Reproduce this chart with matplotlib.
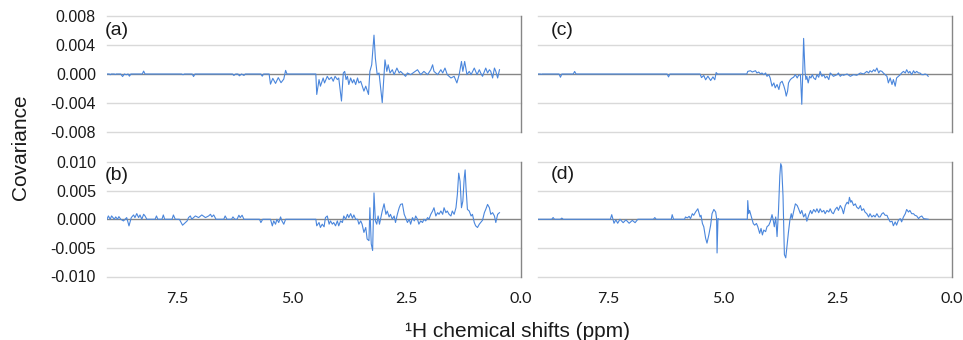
import numpy as np
import matplotlib
matplotlib.use("Agg")
import matplotlib.pyplot as plt

# covariance values below are in units of 1e-3
# panel (a)
a_ppm = [9.03, 8.99, 8.97, 8.95, 8.88, 8.86, 8.84, 8.74, 8.70, 8.66,
         8.62, 8.58, 8.55, 8.52, 8.27, 8.24, 8.21, 7.41, 7.38, 7.35,
         7.18, 7.15, 7.12, 6.30, 6.27, 6.23, 6.18, 6.15, 6.10, 6.05,
         6.02, 5.68, 5.65, 5.62, 5.50, 5.47, 5.42, 5.36, 5.30, 5.24,
         5.18, 5.14, 5.11, 4.48,
         4.46, 4.41, 4.38, 4.32, 4.29, 4.23, 4.19, 4.14, 4.10, 4.06,
         4.01, 3.98, 3.92, 3.88, 3.85, 3.82, 3.79, 3.76, 3.72, 3.68,
         3.65, 3.61, 3.57, 3.54, 3.50, 3.43, 3.39, 3.33, 3.30, 3.26,
         3.21, 3.18, 3.14, 3.10, 3.03, 2.99, 2.97, 2.93, 2.90, 2.86,
         2.81, 2.77, 2.71, 2.66, 2.63, 2.52, 2.48, 2.41, 2.26, 2.19,
         2.12, 2.04, 1.97, 1.93, 1.90, 1.82, 1.75, 1.71, 1.66, 1.61,
         1.53, 1.46, 1.40, 1.35, 1.30, 1.27, 1.23, 1.18, 1.13, 1.09,
         1.02, 0.96, 0.91, 0.88, 0.84, 0.77, 0.73, 0.69, 0.66, 0.62,
         0.58, 0.55, 0.51, 0.47]
a_cov = [0, 0, -0.1, 0, 0, -0.08, 0, 0, -0.35, 0,
         -0.1, 0, -0.3, 0, 0, 0.4, 0, 0, -0.1, 0,
         0, -0.35, 0, 0, -0.2, 0, 0, -0.25, 0, -0.2,
         0, 0, -0.3, 0, 0, -1.4, -0.6, -1.3, -0.5, -1.2,
         -0.7, 0.5, 0, 0,
         -2.82, -0.77, -1.68, -0.55, -1.23, -0.32, -0.77, -0.45, -1.00, -0.32,
         -0.77, -0.55, -3.73, 0.14, 0.36, -0.77, -0.32, -1.45, -0.55, -1.23,
         -0.77, -1.45, -0.55, -1.23, -1.00, -2.36, -1.68, -2.82, 0.36, 1.27,
         5.36, 2.18, -0.09, 0.14, -3.95, -0.09, 1.95, 0.36, 1.27, 0.14,
         0.59, -0.09, 0.82, 0.14, 0.36, -0.32, 0.14, -0.09, 0.59, -0.09,
         0.36, -0.09, 0.59, 1.27, 0.36, -0.09, 0.59, 0.14, 0.82, -0.09,
         -0.55, -0.32, -1.23, -0.09, 1.73, 0.36, 1.73, -0.09, 0.36, -0.09,
         0.82, -0.09, 0.59, 0.14, -0.32, 0.82, 0.14, 0.59, 0.36, -0.55,
         0.82, 0.36, -0.55, 0.59]

# panel (b)
b_ppm = [9.04, 9.01, 8.97, 8.94, 8.88, 8.85, 8.81, 8.78, 8.74, 8.68,
         8.61, 8.56, 8.51, 8.46, 8.43, 8.39, 8.35, 8.32, 8.28, 8.24,
         8.21, 8.17, 7.99, 7.96, 7.93, 7.84, 7.81, 7.78, 7.62, 7.59,
         7.55, 7.46, 7.39, 7.33, 7.29, 7.26, 7.22, 7.19, 7.11, 7.04,
         6.97, 6.89, 6.82, 6.78, 6.75, 6.71, 6.66, 6.49, 6.46, 6.42,
         6.32, 6.29, 6.25, 6.20, 6.16, 6.13, 6.09, 6.05, 5.71, 5.68,
         5.64, 5.47, 5.43, 5.40, 5.36, 5.33, 5.29, 5.25, 5.22, 5.18,
         5.14, 4.48,
         4.46, 4.41, 4.38, 4.34, 4.30, 4.27, 4.23, 4.19, 4.16, 4.12,
         4.09, 4.05, 4.01, 3.98, 3.94, 3.90, 3.87, 3.83, 3.79, 3.76,
         3.72, 3.68, 3.65, 3.61, 3.57, 3.54, 3.50, 3.47, 3.43, 3.39,
         3.36, 3.32, 3.30, 3.27, 3.24, 3.21, 3.18, 3.15, 3.12, 3.09,
         3.06, 3.03, 2.99, 2.95, 2.92, 2.88, 2.85, 2.81, 2.77, 2.74,
         2.70, 2.66, 2.63, 2.59, 2.55, 2.52, 2.48, 2.44, 2.41, 2.37,
         2.33, 2.30, 2.26, 2.23, 2.19, 2.15, 2.12, 2.08, 2.04, 2.01,
         1.97, 1.93, 1.90, 1.86, 1.82, 1.79, 1.75, 1.71, 1.68, 1.64,
         1.61, 1.57, 1.53, 1.50, 1.46, 1.42, 1.39, 1.36, 1.33, 1.30,
         1.27, 1.24, 1.22, 1.20, 1.17, 1.13, 1.09, 1.06, 1.02, 0.99,
         0.95, 0.91, 0.88, 0.84, 0.80, 0.77, 0.73, 0.69, 0.66, 0.62,
         0.58, 0.55, 0.51, 0.47]
b_cov = [0, 0.58, 0, 0.58, 0, 0.41, 0, 0.46, 0, -0.29,
         0.29, -1.16, 0.29, 0.75, 0.29, 0.99, 0.29, 0.75, 0, 0.87,
         0.58, 0, 0, 0.58, 0, 0, 0.75, 0, 0, 0.75,
         0, 0, -1.04, -0.58, -0.29, 0.29, 0.58, 0, 0.58, 0.29,
         0.75, 0.29, 0.58, 0.87, 0.41, 0.75, 0, 0, 0.58, 0,
         0, 0.41, 0, 0, 0.7, 0.29, 0.7, 0, 0, -0.58,
         0, 0, -1.16, -0.29, -0.87, 0, -0.58, 0.41, -0.29, -0.87,
         0, 0,
         -1.15, -0.57, -1.44, -0.86, -1.32, 0.29, 0.57, -0.86, -0.29, -0.86,
         -0.57, -1.15, -0.29, -1.15, -0.29, -0.57, 0.57, 0, 0.86, 0.29,
         0.98, 0.17, 0.75, 0, 0, -0.86, -0.29, -0.86, -2.30, -1.44,
         -3.45, -3.74, 2.01, -4.31, -5.46, 4.60, -0.29, -0.86, 0.57, -0.86,
         0.29, 1.44, 2.70, 0.86, 1.44, 0.40, 0.86, 0, 0.57, -0.57,
         0.86, 2.01, 2.59, 2.70, 0.86, 0.29, -0.57, 0, -0.86, 0.29,
         -0.29, 0.57, 0, -0.86, -0.29, -0.57, 0, -0.29, 0.29, 0,
         0.86, 1.44, 2.01, 0.57, 1.15, 0.86, 1.44, 0.86, 2.01, 1.15,
         1.44, 0.86, 0.57, 1.44, 0.86, 2.01, 4.31, 8.05, 6.61, 2.01,
         3.16, 7.18, 8.62, 5.46, 1.72, 1.44, 0.57, 0.86, -0.57, -1.15,
         -1.44, -0.86, -0.57, -0.17, 1.15, 1.72, 2.59, 2.01, 0.86, 1.15,
         0.57, -0.57, 0.86, 1.15]

# panel (c)
c_ppm = [9.04, 8.99, 8.97, 8.95, 8.58, 8.55, 8.52, 8.27, 8.24, 8.21,
         6.22, 6.19, 6.16, 5.50, 5.47, 5.42, 5.38, 5.33, 5.27, 5.22,
         5.18, 5.15, 5.12, 4.48,
         4.46, 4.40, 4.36, 4.33, 4.29, 4.26, 4.22, 4.18, 4.15, 4.11,
         4.07, 4.04, 4.00, 3.97, 3.93, 3.89, 3.86, 3.82, 3.78, 3.75,
         3.71, 3.67, 3.64, 3.62, 3.59, 3.57, 3.53, 3.49, 3.46, 3.42,
         3.38, 3.35, 3.31, 3.28, 3.26, 3.24, 3.21, 3.19, 3.17, 3.14,
         3.11, 3.08, 3.05, 3.02, 2.98, 2.95, 2.91, 2.88, 2.84, 2.80,
         2.77, 2.73, 2.69, 2.66, 2.62, 2.59, 2.51, 2.48, 2.44, 2.40,
         2.37, 2.29, 2.22, 2.15, 2.08, 2.00, 1.93, 1.86, 1.82, 1.79,
         1.75, 1.71, 1.68, 1.64, 1.60, 1.57, 1.53, 1.50, 1.46, 1.42,
         1.39, 1.35, 1.31, 1.28, 1.24, 1.21, 1.17, 1.13, 1.10, 1.06,
         1.02, 0.99, 0.95, 0.92, 0.88, 0.84, 0.81, 0.77, 0.73, 0.70,
         0.66, 0.62, 0.59, 0.55, 0.52]
c_cov = [0, 0, -0.05, 0, 0, -0.45, 0, 0, 0.35, 0,
         0, -0.4, 0, 0, -0.5, -0.2, -0.8, -0.3, -0.9, -0.4,
         -0.8, 0.2, 0, 0,
         0.36, 0.45, 0.27, 0.36, 0.45, 0.14, 0.27, 0, 0.14, -0.09,
         0.14, -0.32, -0.09, -0.55, -1.68, -1.23, -1.91, -1.45, -2.14, -1.23,
         -1.00, -1.68, -2.36, -3.05, -2.36, -1.23, -0.77, -0.55, -0.45, -0.09,
         -0.55, -0.18, -0.09, -4.18, -0.09, 4.91, 0.36, -0.77, -0.32, -1.23,
         -0.32, -0.55, -0.09, -0.55, -0.77, -0.09, -0.45, 0.36, -0.32, -0.09,
         -0.55, -0.32, -0.77, 0.14, -0.09, -0.32, -0.09, 0.14, -0.32, -0.09,
         -0.18, 0, -0.32, -0.09, -0.18, 0.14, 0, 0.36, 0.14, 0.45,
         0.27, 0.59, 0.36, 0.82, 0.14, 0.45, 0.36, 0.14, -0.09, -0.32,
         -1.23, -0.55, -1.45, -0.77, -1.68, -0.55, -0.32, -0.09, 0.14, 0.36,
         0.14, 0.59, 0.14, 0.36, -0.09, 0.45, 0.14, 0.36, 0.14, 0.14,
         -0.09, -0.09, 0, -0.09, -0.32]

# panel (d)
d_ppm = [9.04, 8.74, 8.71, 8.68, 8.55, 8.52, 8.49, 7.46, 7.43, 7.38,
         7.34, 7.30, 7.25, 7.18, 7.12, 7.05, 6.98, 6.92, 6.86, 6.80,
         6.52, 6.49, 6.46, 6.13, 6.11, 6.08, 5.84,
         5.82, 5.78, 5.74, 5.71, 5.67, 5.64, 5.60, 5.55, 5.50, 5.48,
         5.45, 5.42, 5.38, 5.35, 5.31, 5.27, 5.24, 5.20, 5.16, 5.14,
         5.13, 5.11, 5.09, 4.47, 4.46, 4.44, 4.42, 4.38, 4.34, 4.31,
         4.27, 4.24, 4.20, 4.17, 4.14, 4.11, 4.07, 4.04, 4.00, 3.97,
         3.93, 3.91, 3.88, 3.85, 3.82, 3.79, 3.76, 3.74, 3.72, 3.69,
         3.66, 3.63, 3.60, 3.57, 3.54, 3.51, 3.49, 3.46, 3.42, 3.38,
         3.35, 3.31, 3.28, 3.24, 3.20, 3.17, 3.13, 3.09, 3.06, 3.02,
         2.98, 2.95, 2.91, 2.88, 2.84, 2.80, 2.77, 2.73, 2.69, 2.66,
         2.62, 2.59, 2.55, 2.51, 2.48, 2.44, 2.40, 2.37, 2.33, 2.29,
         2.26, 2.24, 2.21, 2.19, 2.15, 2.11, 2.08, 2.04, 2.00, 1.97,
         1.93, 1.90, 1.86, 1.82, 1.79, 1.75, 1.71, 1.68, 1.64, 1.60,
         1.57, 1.53, 1.50, 1.46, 1.42, 1.39, 1.35, 1.31, 1.28, 1.24,
         1.21, 1.17, 1.13, 1.10, 1.06, 1.02, 0.99, 0.95, 0.92, 0.88,
         0.84, 0.81, 0.77, 0.73, 0.70, 0.66, 0.62, 0.52]
d_cov = [0, 0, 0.3, 0, 0, 0.2, 0, 0, 0.8, -0.7,
         -0.1, -0.7, 0, -0.6, -0.1, -0.7, -0.2, -0.6, 0, 0,
         0, 0.29, 0, 0, 0.8, 0, 0,
         0.40, 0.23, 0.51, 0.11, 0.97, 0.69, 1.26, 1.83, 0.40, 0.69,
         -0.74, -1.31, -3.31, -4.17, -2.74, -1.03, 0.97, 1.71, 1.26, 0.11,
         -5.89, 0.11, 0, 0, 3.26, 0.97, 1.54, 0.40, -0.74, -1.03,
         -0.74, -1.31, -2.46, -1.60, -2.74, -1.89, -2.17, -1.31, -1.03, -0.46,
         0.80, 0.11, -1.31, 0.40, -3.03, 1.26, 7.54, 9.71, 9.26, 4.11,
         -6.17, -6.74, -4.46, -2.17, -0.17, 0.97, 0.11, 1.26, 2.69, 2.40,
         1.83, 0.97, 1.54, 0.40, 0.97, -0.34, 0.69, 1.54, 0.97, 1.71,
         1.26, 1.83, 1.14, 1.83, 1.26, 1.54, 0.97, 1.54, 1.26, 1.83,
         1.14, 0.97, 1.71, 2.11, 1.54, 2.40, 1.83, 0.97, 2.40, 2.97,
         2.69, 3.83, 2.97, 3.26, 2.40, 2.69, 2.11, 1.83, 2.40, 1.54,
         1.83, 1.26, 0.97, 0.40, 0.97, 0.40, 0.69, 0.40, 0.97, 0.40,
         0.40, 0.97, 1.14, 0.69, 0.69, 0.11, -0.46, -0.34, -1.14, -0.46,
         -1.03, -0.17, 0.11, -0.46, 0.40, 0.97, 1.71, 1.26, 1.54, 0.97,
         0.97, 0.69, 0.57, 0.11, 0.40, 0.57, 0.11, 0]

top_ticks = [0.008, 0.004, 0.0, -0.004, -0.008]
bottom_ticks = [0.010, 0.005, 0.0, -0.005, -0.010]
x_ticks = [7.5, 5.0, 2.5, 0.0]
panel_labels = ["(a)", "(b)", "(c)", "(d)"]

LINE = "#4a86dc"
GRID = "#d9d9d9"
AXIS = "#868686"

fig = plt.figure(figsize=(9.63, 3.40), dpi=100)
W, H = 963.0, 340.0


def panel(x0, x1, ytop, ybot, ppm, cov, yticks, label, show_y, show_x, lab_y):
    ax = fig.add_axes([x0 / W, 1 - ybot / H, (x1 - x0) / W, (ybot - ytop) / H])
    lim = max(yticks)
    ax.set_xlim(9.04, 0)
    ax.set_ylim(-lim, lim)
    ax.set_yticks(yticks)
    ax.set_xticks(x_ticks)
    # gridlines drawn by hand so the outer ones are not clipped
    for v in yticks:
        if v != 0:
            ax.axhline(v, color=GRID, lw=1.0, zorder=0, clip_on=False)
    ax.axhline(0, color=AXIS, lw=1.0, zorder=2)
    ax.plot(ppm, np.array(cov) * 1e-3, color=LINE, lw=0.8, zorder=3)
    for s in ["top", "bottom", "left"]:
        ax.spines[s].set_visible(False)
    ax.spines["right"].set_color(AXIS)
    ax.spines["right"].set_linewidth(1.0)
    ax.tick_params(length=0)
    if show_y:
        ax.set_yticklabels([f"{v:.3f}" for v in yticks], fontsize=11.5,
                           family="Liberation Sans", color="#1a1a1a")
        ax.tick_params(axis="y", pad=8)
    else:
        ax.set_yticklabels([])
    if show_x:
        ax.set_xticklabels([f"{v:.1f}" for v in x_ticks], fontsize=11.5,
                           family="Lato", color="#1a1a1a")
        ax.tick_params(axis="x", pad=11)
    else:
        ax.set_xticklabels([])
    lx = -0.005 if show_y else 0.031
    ax.text(lx, lab_y, label, transform=ax.transAxes, ha="left", va="center",
            fontsize=14, family="Liberation Sans", color="#1a1a1a")
    return ax


panel(107, 521, 16, 132, a_ppm, a_cov, top_ticks, panel_labels[0], True, False, 0.879)
panel(107, 521, 162, 276.5, b_ppm, b_cov, bottom_ticks, panel_labels[1], True, True, 0.886)
panel(538, 952, 16, 132, c_ppm, c_cov, top_ticks, panel_labels[2], False, False, 0.879)
panel(538, 952, 162, 276.5, d_ppm, d_cov, bottom_ticks, panel_labels[3], False, True, 0.89)

fig.text(21 / W, 1 - 147 / H, "Covariance", rotation=90, ha="center", va="center",
         fontsize=15, family="Liberation Sans", color="#1a1a1a")
fig.text(517 / W, 1 - 336.7 / H, "\u00b9H chemical shifts (ppm)", ha="center",
         va="baseline", fontsize=15, family="Liberation Sans", color="#1a1a1a")

fig.savefig("out.png", dpi=100)
